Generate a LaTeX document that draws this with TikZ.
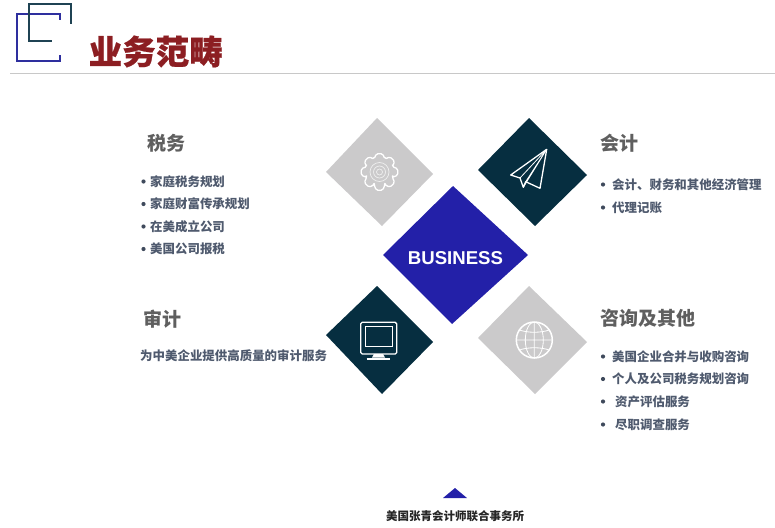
\documentclass[tikz,border=0pt]{standalone}
\usepackage{fontspec}
\newfontfamily\cjk{Noto Sans CJK SC}
\newfontfamily\cjkheavy[BoldFeatures={FakeBold=0.6}]{Noto Sans CJK SC}
\newfontfamily\arialish[BoldFont={Liberation Sans Bold}]{Liberation Sans}
\definecolor{brandblue}{HTML}{2320A8}
\definecolor{logoblue}{HTML}{2E2F9E}
\definecolor{deepteal}{HTML}{062E40}
\definecolor{softgray}{HTML}{CBCACB}
\definecolor{titlered}{HTML}{8C1E22}
\definecolor{headgray}{HTML}{5F5F5F}
\definecolor{itemslate}{HTML}{4F5A6E}
\definecolor{dotslate}{HTML}{3F4A5C}
\definecolor{rulegray}{HTML}{C8C8C8}
\tikzset{
  icon/.style={draw=white,line width=1.3pt,line join=round},
  thinicon/.style={draw=white,line width=0.8pt},
  headtext/.style={anchor=west,inner sep=0pt,text=headgray,font=\cjk\bfseries\fontsize{19}{21}\selectfont},
  itemtext/.style={anchor=west,inner sep=0pt,text=itemslate,font=\cjk\bfseries\fontsize{12.45}{14}\selectfont},
  bulletdot/.style={circle,fill=dotslate,inner sep=0pt,minimum size=4.2pt},
}
\begin{document}
\begin{tikzpicture}[x=1pt,y=-1pt]
\useasboundingbox (0,0) rectangle (775,527);
% logo
\draw[logoblue,line width=1.4pt] (60,20) -- (60,14) -- (17,14) -- (17,61) -- (60,61) -- (60,55);
\draw[deepteal!90!white,line width=1.4pt] (71,24) -- (71,4) -- (29,4) -- (29,41) -- (52,41);
\node[anchor=west,inner sep=0pt,text=titlered,font=\cjkheavy\bfseries\fontsize{33.5}{36}\selectfont] (title) at (88.5,51.5) {业务范畴};
\draw[rulegray,line width=0.8pt] (10,73) -- (775,73);
% tiles
\fill[softgray] (377,118) -- (433,174) -- (382,226) -- (326,172) -- cycle;
\fill[deepteal] (529,118) -- (587,175) -- (535,226) -- (478,170) -- cycle;
\fill[brandblue] (453,186) -- (528,255) -- (452,324) -- (383,255) -- cycle;
\fill[deepteal] (377,286) -- (433,342) -- (382,394) -- (326,335) -- cycle;
\fill[softgray] (529,286) -- (587,342) -- (535,394) -- (478,338) -- cycle;
\node[text=white,inner sep=0pt,font=\arialish\bfseries\fontsize{18.6}{20}\selectfont] (biz) at (455.5,258.5) {BUSINESS};
% gear
\begin{scope}[shift={(379.5,172)}]
\draw[icon,rounded corners=1.5pt]
  (-22.5:14) \foreach \a in {0,45,...,315} {
    -- (\a-22.5:14) -- (\a-10:18.5) -- (\a+10:18.5) -- (\a+22.5:14)
  } -- cycle;
\draw[white!70!softgray,line width=0.7pt] (0,0) circle (9.5) (0,0) circle (6) (0,0) circle (3);
\end{scope}
% paper plane
\draw[icon] (546.7,149.3) -- (510.7,175) -- (520,178) -- (523.3,187.3) -- (525.7,181.7) -- (540,188.3) -- cycle;
\draw[thinicon] (546.7,149.3) -- (520,178) (546.7,149.3) -- (525.7,181.7) (546.7,149.3) -- (523.3,187.3);
% monitor
\draw[icon,rounded corners=1.5pt] (360.7,322.3) rectangle (396.7,354);
\draw[thinicon] (365,326.7) rectangle (392.7,346.7);
\fill[white] (374,354) -- (383,354) -- (385,357.5) -- (372,357.5) -- cycle;
\draw[white,line width=2pt] (366.7,358.5) -- (390,358.5);
% globe
\begin{scope}[shift={(534.3,340)}]
\draw[icon,line width=1.5pt] (0,0) circle (18);
\draw[thinicon] (0,0) ellipse (9 and 18) (0,-18) -- (0,18) (-18,0) -- (18,0);
\draw[thinicon] (-15,-10) .. controls (-6,-7) and (6,-7) .. (15,-10);
\draw[thinicon] (-15,10) .. controls (-6,7) and (6,7) .. (15,10);
\end{scope}
% left top
\node[headtext] (tax) at (147,143.5) {税务};
\node[bulletdot] (b1) at (143.5,181.5) {};
\node[itemtext] (t1) at (150,181.5) {家庭税务规划};
\node[bulletdot] (b2) at (143.5,204) {};
\node[itemtext] (t2) at (150,204) {家庭财富传承规划};
\node[bulletdot] (b3) at (143.5,226.5) {};
\node[itemtext] (t3) at (150,226.5) {在美成立公司};
\node[bulletdot] (b4) at (143.5,249) {};
\node[itemtext] (t4) at (150,249) {美国公司报税};
% left bottom
\node[headtext] (audit) at (143,319) {审计};
\node[itemtext] (a1) at (140,356) {为中美企业提供高质量的审计服务};
% right top
\node[headtext] (acc) at (600,143.5) {会计};
\node[bulletdot] (c1b) at (603,184.5) {};
\node[itemtext] (c1) at (612,184.5) {会计、财务和其他经济管理};
\node[bulletdot] (c2b) at (603,207.5) {};
\node[itemtext] (c2) at (612,207.5) {代理记账};
% right bottom
\node[headtext] (cons) at (600,318.5) {咨询及其他};
\node[bulletdot] (d1b) at (603,356.5) {};
\node[itemtext] (d1) at (612,356.5) {美国企业合并与收购咨询};
\node[bulletdot] (d2b) at (603,379) {};
\node[itemtext] (d2) at (612,379) {个人及公司税务规划咨询};
\node[bulletdot] (d3b) at (603,401.5) {};
\node[itemtext] (d3) at (615,401.5) {资产评估服务};
\node[bulletdot] (d4b) at (603,424.5) {};
\node[itemtext] (d4) at (615,424.5) {尽职调查服务};
% footer
\fill[brandblue] (443,498) -- (467,498) -- (455,488) -- cycle;
\node[inner sep=0pt,text=black!85,font=\cjk\bfseries\fontsize{11.5}{13}\selectfont] (foot) at (455,516) {美国张青会计师联合事务所};
\end{tikzpicture}
\end{document}
